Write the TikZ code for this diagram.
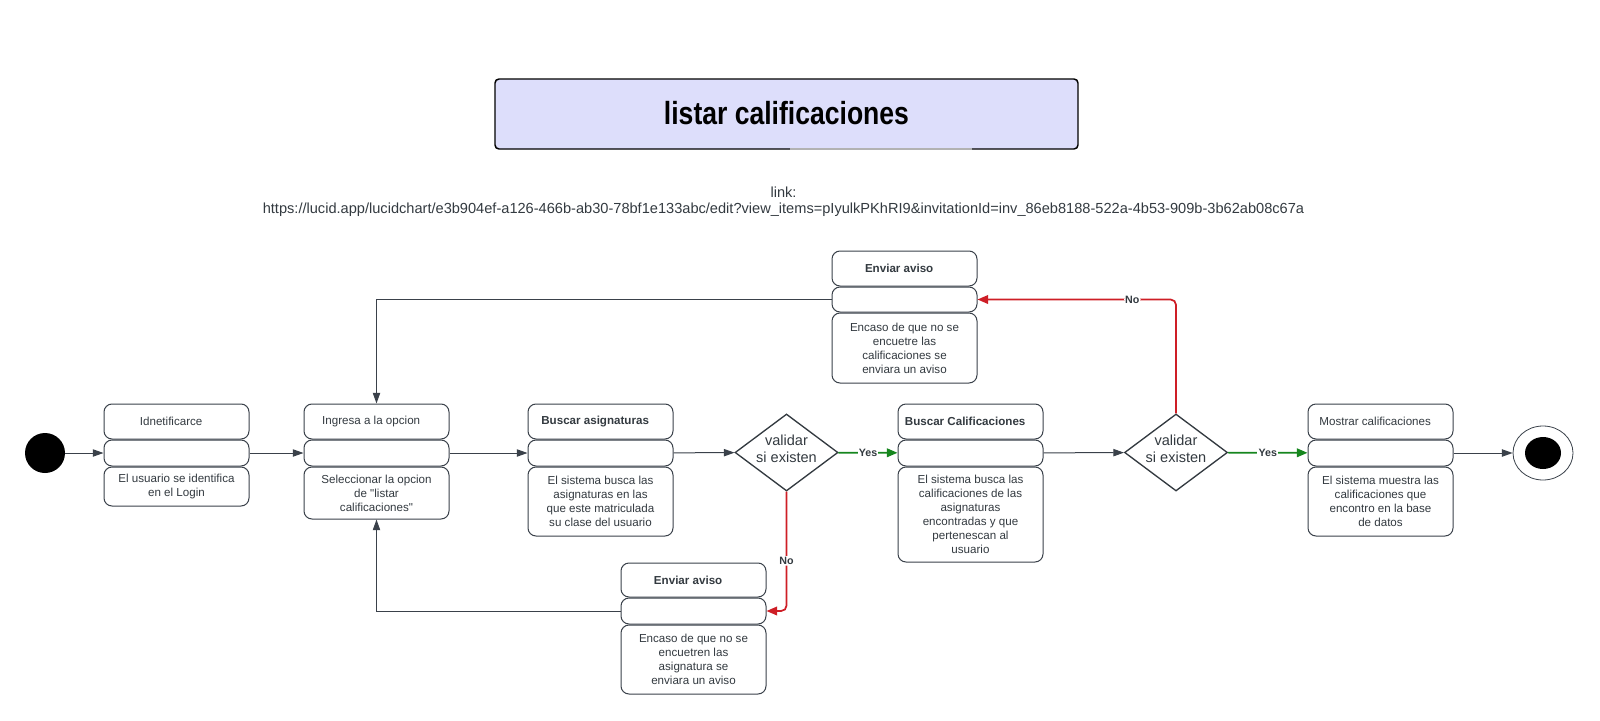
\documentclass[tikz,border=0pt]{standalone}
\usepackage{graphicx}
\usepackage{fontspec}
\setmainfont{Liberation Sans}[Ligatures=TeXOff]
\usetikzlibrary{arrows.meta,shapes.geometric}
\definecolor{txt}{RGB}{51,58,64}
\definecolor{ln}{RGB}{58,65,74}
\definecolor{lav}{RGB}{221,222,251}
\definecolor{redl}{RGB}{206,30,38}
\definecolor{greenl}{RGB}{22,134,30}
\newcommand\lft[1]{#1\hspace*{8pt}}
\begin{document}
\begin{tikzpicture}[x=0.75pt,y=-0.75pt,
  box/.style={draw=ln, line width=0.75pt, rounded corners=6pt, fill=white,
    minimum width=108.75pt, inner sep=0pt, align=center, text=txt,
    font=\fontsize{8.7pt}{10.5pt}\selectfont},
  boldbox/.style={box, font=\bfseries\fontsize{8.7pt}{10.5pt}\selectfont},
  dia/.style={diamond, draw=txt, line width=1pt, fill=white, inner sep=0pt,
    minimum width=77.25pt, minimum height=57.75pt},
  diat/.style={align=center, text=txt, inner sep=0pt,
    font=\fontsize{10.9pt}{12.75pt}\selectfont},
  conn/.style={draw=ln, line width=0.75pt, -{Triangle[length=8pt,width=5.5pt]}},
  redc/.style={draw=redl, line width=1.3pt, rounded corners=4pt, -{Triangle[length=8pt,width=6.5pt]}},
  greenc/.style={draw=greenl, line width=1.3pt, -{Triangle[length=8pt,width=6.5pt]}},
  lab/.style={fill=white, inner sep=0.8pt, text=txt, font=\bfseries\fontsize{8pt}{9pt}\selectfont},
]
\useasboundingbox (0,0) rectangle (1600,721);

% title
\node[draw=black, line width=1.1pt, rounded corners=3pt, fill=lav,
  minimum width=437.25pt, minimum height=52.5pt, inner sep=0pt,
  font=\bfseries\fontsize{24pt}{28pt}\selectfont] (title) at (786.5,114)
  {\raisebox{2pt}{\scalebox{0.83}[1]{listar calificaciones}}};
\draw[gray!60, line width=1.1pt] (790,149) -- (972,149);

% link
\node[align=center, text=txt, inner sep=0pt, font=\fontsize{10.95pt}{12pt}\selectfont]
  (link) at (783.5,202)
  {link:\\https://lucid.app/lucidchart/e3b904ef-a126-466b-ab30-78bf1e133abc/edit?view\_items=pIyulkPKhRI9\&invitationId=inv\_86eb8188-522a-4b53-909b-3b62ab08c67a};

% start / end
\node[circle, fill=black, minimum size=30pt, inner sep=0pt] (start) at (45,453) {};
\node[ellipse, draw=ln, line width=0.6pt, fill=white, minimum width=45pt, minimum height=40.5pt, inner sep=0pt] (endo) at (1543,453) {};
\node[ellipse, fill=black, minimum width=27pt, minimum height=24pt, inner sep=0pt] (endi) at (1543,453) {};

% B1
\node[box, minimum height=26.25pt] (b1t) at (176.5,421.5) {\lft{Idnetificarce}};
\node[box, minimum height=29.25pt] (b1b) at (176.5,486.5) {El usuario se identifica\\en el Login};
\node[box, minimum height=19.5pt] (b1m) at (176.5,453) {};

% B2
\node[box, minimum height=26.25pt] (b2t) at (376.5,421.5) {\lft{Ingresa a la opcion}};
\node[box, minimum height=39pt] (b2b) at (376.5,493) {Seleccionar la opcion\\de "listar\\calificaciones"};
\node[box, minimum height=19.5pt] (b2m) at (376.5,453) {};

% B3
\node[boldbox, minimum height=26.25pt] (b3t) at (600.5,421.5) {\lft{Buscar asignaturas}};
\node[box, minimum height=51.75pt] (b3b) at (600.5,501.5) {El sistema busca las\\asignaturas en las\\que este matriculada\\su clase del usuario};
\node[box, minimum height=19.5pt] (b3m) at (600.5,453) {};

% D1
\node[dia] (d1) at (786.5,452.5) {};
\node[diat] (d1t) at (786.5,448.5) {validar\\si existen};

% B4
\node[boldbox, minimum height=26.25pt] (b4t) at (970.5,421.5) {\lft{Buscar Calificaciones}};
\node[box, minimum height=71.25pt] (b4b) at (970.5,514.5) {El sistema busca las\\calificaciones de las\\asignaturas\\encontradas y que\\pertenescan al\\usuario};
\node[box, minimum height=19.5pt] (b4m) at (970.5,453) {};

% D2
\node[dia] (d2) at (1176,452.5) {};
\node[diat] (d2t) at (1176,448.5) {validar\\si existen};

% B5
\node[box, minimum height=26.25pt] (b5t) at (1380.5,421.5) {\lft{Mostrar calificaciones}};
\node[box, minimum height=51.75pt] (b5b) at (1380.5,501.5) {El sistema muestra las\\calificaciones que\\encontro en la base\\de datos};
\node[box, minimum height=19.5pt] (b5m) at (1380.5,453) {};

% B6
\node[boldbox, minimum height=25.5pt] (b6t) at (693.5,580) {\lft{Enviar aviso}};
\node[box, minimum height=51.75pt] (b6b) at (693.5,659.5) {Encaso de que no se\\encuetren las\\asignatura se\\enviara un aviso};
\node[box, minimum height=19.5pt] (b6m) at (693.5,611) {};

% B7
\node[boldbox, minimum height=26.25pt] (b7t) at (904.5,268.5) {\lft{Enviar aviso}};
\node[box, minimum height=52.5pt] (b7b) at (904.5,348) {Encaso de que no se\\encuetre las\\calificaciones se\\enviara un aviso};
\node[box, minimum height=18.75pt] (b7m) at (904.5,299.5) {};

% connectors
\draw[conn] (start) -- (b1m);
\draw[conn] (b1m) -- (b2m);
\draw[conn] (b2m) -- (b3m);
\draw[conn] (b3m) -- (d1);
\draw[greenc] (d1) -- node[lab] {Yes} (b4m);
\draw[conn] (b4m) -- (d2);
\draw[greenc] (d2) -- node[lab] {Yes} (b5m);
\draw[conn] (b5m) -- (endo);
\draw[redc] (d1.south) |- node[lab, pos=0.29] {No} (b6m.east);
\draw[conn] (b6m.west) -| (b2b.south);
\draw[redc] (d2.north) |- node[lab, pos=0.61] {No} (b7m.east);
\draw[conn] (b7m.west) -| (b2t.north);
\end{tikzpicture}
\end{document}
